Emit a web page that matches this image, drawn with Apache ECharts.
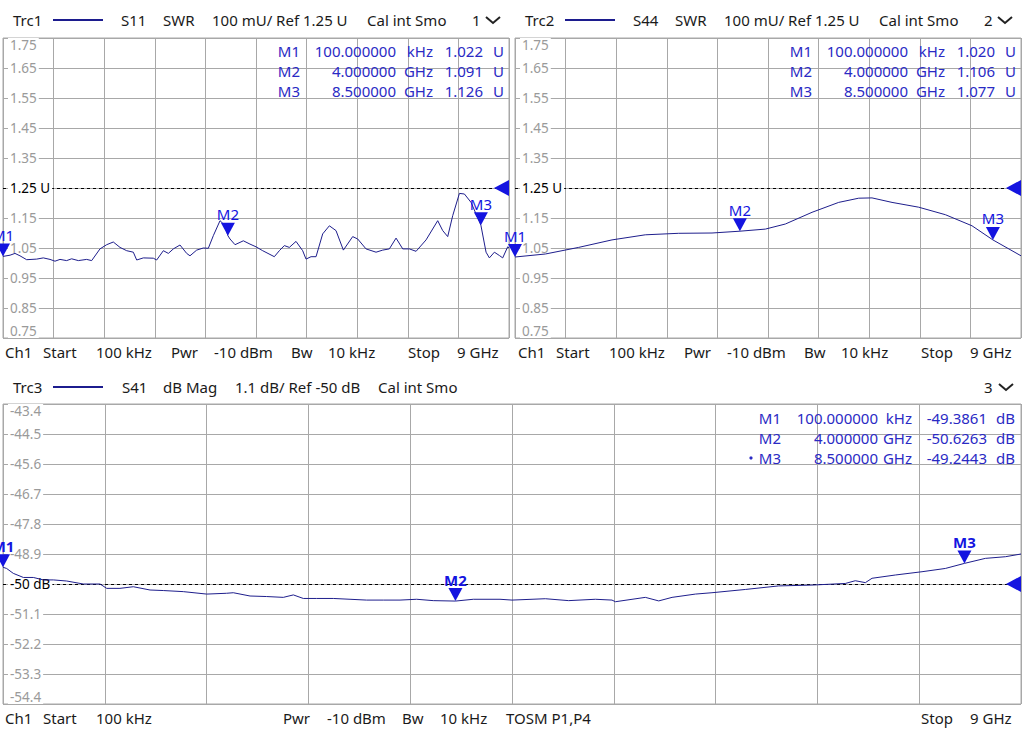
<!DOCTYPE html>
<html><head><meta charset="utf-8">
<script src="https://cdn.jsdelivr.net/npm/echarts@6/dist/echarts.min.js"></script>
<style>html,body{margin:0;padding:0;background:#fff}#c{width:1024px;height:732px}</style>
</head><body><div id="c"></div>
<script>
// ---------- DATA ----------
const s11Freq = [0.0001,0.125,0.213,0.302,0.421,0.599,0.717,0.836,0.925,1.014,1.132,1.221,1.340,1.488,1.577,1.725,1.844,1.962,2.081,2.200,2.318,2.378,2.496,2.674,2.733,2.852,2.941,3.030,3.148,3.267,3.326,3.445,3.563,3.652,3.741,3.860,3.949,4.000,4.038,4.127,4.275,4.393,
  4.500,4.619,4.826,4.915,5.004,5.093,5.212,5.330,5.390,5.479,5.568,5.686,5.805,5.923,6.054,6.220,6.309,6.457,6.635,6.754,6.872,6.991,7.110,7.228,7.347,7.525,7.732,7.821,7.910,7.999,8.118,8.207,8.325,8.500,8.592,8.651,8.740,8.829,8.888,8.977,9.000];
const s11Val = [1.022,1.026,1.032,1.024,1.011,1.013,1.017,1.012,1.006,1.012,1.008,1.014,1.008,1.012,1.008,1.047,1.061,1.070,1.052,1.041,1.036,1.010,1.017,1.016,1.010,1.041,1.032,1.047,1.060,1.032,1.024,1.043,1.050,1.049,1.091,1.141,1.125,1.091,1.080,1.061,1.074,1.063,
  1.054,1.041,1.021,1.041,1.058,1.052,1.072,1.041,1.013,1.021,1.021,1.097,1.124,1.108,1.043,1.088,1.080,1.047,1.036,1.043,1.047,1.083,1.047,1.047,1.039,1.077,1.141,1.108,1.088,1.158,1.232,1.230,1.202,1.126,1.036,1.017,1.036,1.025,1.017,1.054,1.050];
const s44Freq = [0.0001,0.540,1.132,1.725,2.318,2.911,3.504,4.000,4.453,4.809,5.283,5.757,6.113,6.350,6.706,7.180,7.655,8.129,8.500,9.000];
const s44Val  = [1.020,1.030,1.052,1.077,1.094,1.099,1.100,1.106,1.113,1.130,1.169,1.202,1.216,1.217,1.202,1.186,1.161,1.124,1.077,1.024];
const s41Freq = [0.0001,0.032,0.091,0.180,0.268,0.357,0.445,0.563,0.710,0.858,0.917,1.034,1.152,1.300,1.417,1.594,1.801,1.977,2.036,2.184,2.331,2.478,2.567,2.655,2.773,2.920,3.068,3.215,3.362,3.510,3.657,3.804,4.000,4.158,4.394,
  4.500,4.795,5.001,5.237,5.384,5.414,5.679,5.797,5.915,6.121,6.268,6.563,6.858,7.152,7.447,7.535,7.624,7.683,7.889,8.125,8.331,8.500,8.685,8.862,9.000];
const s41Val  = [-49.386,-49.43,-49.61,-49.76,-49.76,-49.85,-49.85,-49.89,-50.00,-50.00,-50.16,-50.16,-50.10,-50.22,-50.24,-50.28,-50.37,-50.34,-50.32,-50.44,-50.46,-50.49,-50.40,-50.53,-50.53,-50.53,-50.56,-50.59,-50.59,-50.59,-50.56,-50.61,-50.626,-50.56,-50.56,
  -50.59,-50.54,-50.61,-50.56,-50.59,-50.65,-50.49,-50.62,-50.49,-50.37,-50.32,-50.20,-50.07,-50.04,-49.98,-49.88,-49.95,-49.79,-49.67,-49.55,-49.43,-49.244,-49.06,-49.00,-48.90];

const markerNames = ['M1','M2','M3'];
const markerFreq = [0.0001, 4.0, 8.5];
const markerFreqText = ['100.000000','4.000000','8.500000'];
const markerFreqUnit = ['kHz','GHz','GHz'];
const s11Markers = [1.022, 1.091, 1.126];
const s44Markers = [1.020, 1.106, 1.077];
const s41Markers = [-49.3861, -50.6263, -49.2443];
const s11MarkerText = ['1.022','1.091','1.126'];
const s44MarkerText = ['1.020','1.106','1.077'];
const s41MarkerText = ['-49.3861','-50.6263','-49.2443'];

const hdr1 = ['Trc1','S11','SWR','100 mU/ Ref 1.25 U','Cal int Smo','1'];
const hdr2 = ['Trc2','S44','SWR','100 mU/ Ref 1.25 U','Cal int Smo','2'];
const hdr3 = ['Trc3','S41','dB Mag','1.1 dB/ Ref -50 dB','Cal int Smo','3'];
const ftrTop = ['Ch1','Start','100 kHz','Pwr','-10 dBm','Bw','10 kHz','Stop','9 GHz'];
const ftrBot = ['Ch1','Start','100 kHz','Pwr','-10 dBm','Bw','10 kHz','TOSM P1,P4','Stop','9 GHz'];

// ---------- STYLE / LAYOUT ----------
const GRID = '#a8a8a8', LAB = '#9a9a9a', TRACE = '#1e1e8c', MK = '#1414e0', TBL = '#2a2ac4', TXT = '#1a1a1a';
const FONT = '"Noto Sans", "Open Sans", sans-serif';
const triDown = 'path://M0,0L10,0L5,9Z';
const triLeft = 'path://M0,5L9,0L9,10Z';

function mkX(g){
  return {type:'value', gridIndex:g, min:0, max:9, interval:0.9, z:0,
    axisLine:{show:false}, axisTick:{show:false}, axisLabel:{show:false},
    splitLine:{show:true, lineStyle:{color:GRID, width:1}}};
}
function mkYGrid(g,min,max,iv){
  return {type:'value', gridIndex:g, position:'left', min, max, interval:iv, z:0,
    axisLine:{show:false}, axisTick:{show:false}, axisLabel:{show:false},
    splitLine:{show:true, lineStyle:{color:GRID, width:1}}};
}
function mkYLab(g,min,max,iv,fmt){
  return {type:'value', gridIndex:g, position:'left', offset:0, min, max, interval:iv, z:2,
    axisLine:{show:false}, axisTick:{show:false}, splitLine:{show:false},
    axisLabel:{show:true, inside:true, margin:5, color:LAB, fontSize:13.5, fontFamily:FONT,
      backgroundColor:'#fff', padding:[0,2], formatter:fmt,
      verticalAlignMinLabel:'bottom', verticalAlignMaxLabel:'top',
      rich:{r:{color:'#000', fontSize:13.5, fontFamily:FONT}}}};
}
const fmtSwr = v => Math.abs(v-1.25)<1e-6 ? '{r|1.25 U}' : v.toFixed(2);
const fmtDb = v => Math.abs(v+50)<1e-6 ? '{r|-50 dB}' : v.toFixed(1);

function zip(a,b){ return a.map((x,i)=>[x,b[i]]); }

function traceSeries(g, freq, val, mvals, bold){
  return {type:'line', xAxisIndex:g, yAxisIndex:2*g, data:zip(freq,val), symbol:'none',
    lineStyle:{color:TRACE, width:1}, z:3, animation:false,
    markPoint:{symbol:triDown, symbolSize:[14,13], symbolOffset:[0,'-50%'], z:5,
      itemStyle:{color:MK}, animation:false,
      label:{show:true, position:'top', distance:1, color:MK, fontSize:15, fontFamily:FONT,
        fontWeight: bold ? 'bold' : 'normal', formatter:'{b}'},
      data: markerNames.map((n,i)=>({name:n, coord:[markerFreq[i], mvals[i]]}))}};
}
function refSeries(g, ref){
  return {type:'line', xAxisIndex:g, yAxisIndex:2*g, data:[[9,ref]], symbol:'none',
    lineStyle:{width:0}, z:1, animation:false,
    markLine:{silent:true, symbol:'none', animation:false, label:{show:false}, z:1,
      data:[{yAxis:ref, lineStyle:{color:'#000', type:[3,3], width:1}}]},
    markPoint:{symbol:triLeft, symbolSize:[15,16], symbolOffset:['-50%',0], z:5,
      itemStyle:{color:MK}, label:{show:false}, animation:false,
      data:[{coord:[9,ref]}]}};
}

// graphic texts
const G = [];
function txt(s, x, y, color, align, size){
  G.push({type:'text', x, y, silent:true, z:20,
    style:{text:s, fill:color||TXT, font:(size||15)+'px '+FONT, align:align||'left', verticalAlign:'middle'}});
}
function chevron(x, y){
  G.push({type:'polyline', silent:true, z:20, shape:{points:[[x,y-3],[x+7,y+3],[x+14,y-3]]},
    style:{stroke:'#222', lineWidth:2, fill:null}});
}
function traceLine(x, y){
  G.push({type:'line', silent:true, z:20, shape:{x1:x, y1:y, x2:x+50, y2:y}, style:{stroke:'#1c1c8e', lineWidth:2}});
}
// headers
const hdrX = [13,121,163,212,367,472];
hdr1.forEach((s,i)=>txt(s, hdrX[i], 20));
hdr2.forEach((s,i)=>txt(s, hdrX[i]+512, 20));
traceLine(53,20); traceLine(565,20);
chevron(486,20); chevron(998,20);
const hdr3X = [13,122,163,235,378,984];
hdr3.forEach((s,i)=>txt(s, hdr3X[i], 387));
traceLine(53,387); chevron(999,387);
// footers
const ftrX = [5,43,96,171,214,291,328,408,457];
ftrTop.forEach((s,i)=>{ txt(s, ftrX[i], 352); txt(s, ftrX[i]+513, 352); });
const ftrBX = [5,43,96,283,327,402,440,506,921,970];
ftrBot.forEach((s,i)=>txt(s, ftrBX[i], 718));
// marker tables
function table(cols, rows, vals, unit){
  markerNames.forEach((n,i)=>{
    const y = rows[i];
    txt(n, cols[0], y, TBL, 'right');
    txt(markerFreqText[i], cols[1], y, TBL, 'right');
    txt(markerFreqUnit[i], cols[2], y, TBL, 'right');
    txt(vals[i], cols[3], y, TBL, 'right');
    txt(unit, cols[4], y, TBL, 'left');
  });
}
table([300,396,433,483,493],[51,71,91], s11MarkerText, 'U');
table([812,908,945,995,1005],[51,71,91], s44MarkerText, 'U');
table([781,878,912,987,996],[418,438,458], s41MarkerText, 'dB');
G.push({type:'circle', silent:true, z:20, shape:{cx:751, cy:458, r:1.6}, style:{fill:TBL}});

const chart = echarts.init(document.getElementById('c'), null, {renderer:'svg'});
chart.setOption({
  backgroundColor:'#fff',
  animation:false,
  grid:[
    {left:3, top:38, width:506, height:300, show:true, borderColor:GRID, borderWidth:1, backgroundColor:'#fff', outerBoundsMode:'none', containLabel:false},
    {left:515, top:38, width:506, height:300, show:true, borderColor:GRID, borderWidth:1, backgroundColor:'#fff', outerBoundsMode:'none', containLabel:false},
    {left:3, top:404, width:1018, height:300, show:true, borderColor:GRID, borderWidth:1, backgroundColor:'#fff', outerBoundsMode:'none', containLabel:false}
  ],
  xAxis:[mkX(0), mkX(1), mkX(2)],
  yAxis:[mkYGrid(0,0.75,1.75,0.1), mkYLab(0,0.75,1.75,0.1,fmtSwr),
         mkYGrid(1,0.75,1.75,0.1), mkYLab(1,0.75,1.75,0.1,fmtSwr),
         mkYGrid(2,-54.4,-43.4,1.1), mkYLab(2,-54.4,-43.4,1.1,fmtDb)],
  series:[
    refSeries(0,1.25), traceSeries(0, s11Freq, s11Val, s11Markers, false),
    refSeries(1,1.25), traceSeries(1, s44Freq, s44Val, s44Markers, false),
    refSeries(2,-50), traceSeries(2, s41Freq, s41Val, s41Markers, true)
  ],
  graphic:G
});
</script></body></html>
